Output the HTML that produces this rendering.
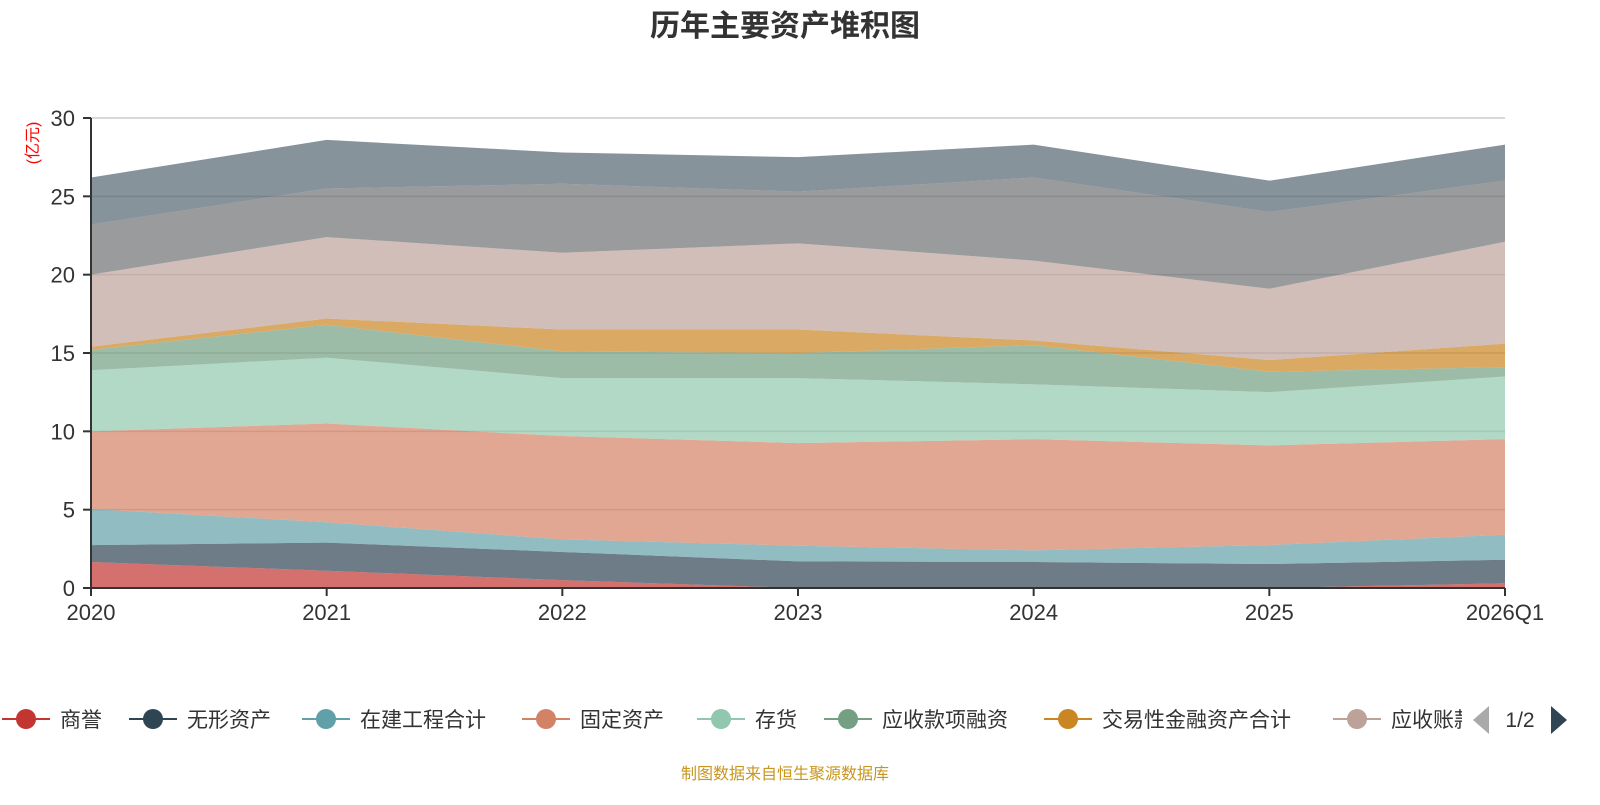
<!DOCTYPE html>
<html><head><meta charset="utf-8"><style>
body{margin:0;background:#fff;width:1600px;height:800px;overflow:hidden;font-family:"Liberation Sans","Noto Sans CJK SC",sans-serif}
</style></head><body>
<svg id="c" width="1600" height="800">
<text x="785" y="36" text-anchor="middle" font-size="30" font-weight="bold" fill="#333" font-family="Liberation Sans, Noto Sans CJK SC, sans-serif">历年主要资产堆积图</text>
<text transform="translate(38,143) rotate(-90)" text-anchor="middle" font-size="16" fill="#ff0000" font-family="Liberation Sans, Noto Sans CJK SC, sans-serif">(亿元)</text>
<g id="grid"></g><g id="areas"></g><g id="axes"></g><g id="legend"></g>
<text x="785" y="779" text-anchor="middle" font-size="16" fill="#c8961e" font-family="Liberation Sans, Noto Sans CJK SC, sans-serif">制图数据来自恒生聚源数据库</text>
</svg>
<script>
const categories=["2020","2021","2022","2023","2024","2025","2026Q1"];
const seriesNames=["商誉","无形资产","在建工程合计","固定资产","存货","应收款项融资","交易性金融资产合计","应收账款","其他资产","其他非流动资产"];
const s0=[1.66,1.1,0.5,0,0,0,0.3];
const s1=[1.08,1.8,1.8,1.7,1.66,1.53,1.5];
const s2=[2.3,1.3,0.8,1.0,0.74,1.21,1.6];
const s3=[4.96,6.3,6.6,6.55,7.1,6.36,6.1];
const s4=[3.9,4.2,3.7,4.15,3.5,3.4,4.0];
const s5=[1.3,2.1,1.7,1.6,2.5,1.3,0.6];
const s6=[0.2,0.4,1.4,1.5,0.3,0.75,1.5];
const s7=[4.6,5.2,4.9,5.5,5.1,4.55,6.5];
const s8=[3.2,3.1,4.4,3.3,5.3,4.9,3.9];
const s9=[3.0,3.1,2.0,2.2,2.1,2.0,2.3];
const seriesValues=[s0,s1,s2,s3,s4,s5,s6,s7,s8,s9];
const yTicks=[0,5,10,15,20,25,30];
const colors=["#c23531","#2f4554","#61a0a8","#d48265","#91c7ae","#749f83","#ca8622","#bda29a","#6e7074","#546570"];
const NS="http://www.w3.org/2000/svg";
const X0=91,X1=1505,Y0=588,Y1=118,YMAX=30;
const xs=i=>X0+(X1-X0)*i/(categories.length-1);
const ys=v=>Y0-(Y0-Y1)*v/YMAX;
function mk(t,a,p){const e=document.createElementNS(NS,t);for(const k in a)e.setAttribute(k,a[k]);p.appendChild(e);return e;}
const grid=document.getElementById('grid'),areas=document.getElementById('areas'),axes=document.getElementById('axes'),leg=document.getElementById('legend');
yTicks.forEach(t=>{
 if(t>0){const l=mk('line',{x1:X0,x2:X1,y1:ys(t),y2:ys(t),stroke:'#ccc','stroke-width':1.5},grid);
 
 }
 const tk=mk('line',{x1:X0-8,x2:X0,y1:ys(t),y2:ys(t),stroke:'#333','stroke-width':2},axes);
 
 
 const tx=mk('text',{x:X0-16,y:ys(t)+8,'text-anchor':'end','font-size':22,fill:'#333'},axes);tx.textContent=t;
 
 
});
let base=categories.map(()=>0);
seriesValues.forEach((vals,si)=>{
 const top=base.map((b,i)=>b+vals[i]);
 let d='M'+top.map((v,i)=>xs(i)+','+ys(v)).join(' L');
 for(let i=categories.length-1;i>=0;i--)d+=' L'+xs(i)+','+ys(base[i]);
 d+='Z';
 const p=mk('path',{d:d,fill:colors[si],'fill-opacity':0.7,stroke:'none'},areas);
 
 
 base=top;
});
const ya=mk('line',{x1:X0,x2:X0,y1:Y1,y2:Y0,stroke:'#333','stroke-width':2},axes);


const xa=mk('line',{x1:X0,x2:X1,y1:Y0,y2:Y0,stroke:'#333','stroke-width':2},axes);


categories.forEach((c,i)=>{
 const tk=mk('line',{x1:xs(i),x2:xs(i),y1:Y0,y2:Y0+8,stroke:'#333','stroke-width':2},axes);
 
 
 const tx=mk('text',{x:xs(i),y:Y0+32,'text-anchor':'middle','font-size':22,fill:'#333'},axes);tx.textContent=c;
 
 
});
const legX=[26,153,326,546,721,848,1068,1357];
const clip=mk('clipPath',{id:'lc'},leg);mk('rect',{x:0,y:690,width:1462,height:60},clip);
const lg=mk('g',{'clip-path':'url(#lc)'},leg);
legX.forEach((cx,i)=>{
 const g=mk('g',{},lg);
 
 
 mk('line',{x1:cx-24,x2:cx+24,y1:719,y2:719,stroke:colors[i],'stroke-width':2},g);
 mk('circle',{cx:cx,cy:719,r:10,fill:colors[i]},g);
 const t=mk('text',{x:cx+34,y:727,'font-size':21,fill:'#333','font-family':'Liberation Sans, Noto Sans CJK SC, sans-serif'},g);t.textContent=seriesNames[i];
});
const pl=mk('path',{d:'M1489,706 L1473,720 L1489,734Z',fill:'#aaa'},leg);


const pt=mk('text',{x:1520,y:727,'text-anchor':'middle','font-size':21,fill:'#333'},leg);pt.textContent='1/2';


const pn=mk('path',{d:'M1551,706 L1567,720 L1551,734Z',fill:'#2f4554'},leg);


</script>
</body></html>
